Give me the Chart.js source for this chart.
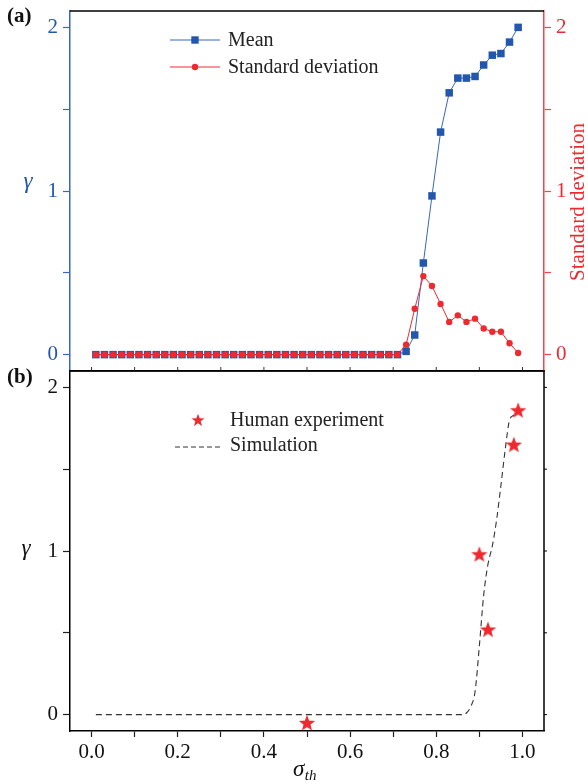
<!DOCTYPE html>
<html>
<head>
<meta charset="utf-8">
<script src="https://cdn.jsdelivr.net/npm/chart.js@4.4.0/dist/chart.umd.min.js"></script>
<style>
  html, body { margin: 0; padding: 0; background: #fff; }
  #wrap { position: relative; width: 588px; height: 784px; }
  #topChart { position: absolute; left: 0; top: 0; }
  #bottomChart { position: absolute; left: 0; top: 360px; }
</style>
</head>
<body>
<div id="wrap">
  <canvas id="topChart" width="588" height="380"></canvas>
  <canvas id="bottomChart" width="588" height="424"></canvas>
</div>
<script>
// panel (a): simulation sweep over sigma_th
const sigmaA = [0.01, 0.03, 0.05, 0.07, 0.09, 0.11, 0.13, 0.15, 0.17, 0.19,
                0.21, 0.23, 0.25, 0.27, 0.29, 0.31, 0.33, 0.35, 0.37, 0.39,
                0.41, 0.43, 0.45, 0.47, 0.49, 0.51, 0.53, 0.55, 0.57, 0.59,
                0.61, 0.63, 0.65, 0.67, 0.69, 0.71, 0.73, 0.75, 0.77, 0.79,
                0.81, 0.83, 0.85, 0.87, 0.89, 0.91, 0.93, 0.95, 0.97, 0.99];
const meanA = [0, 0, 0, 0, 0, 0, 0, 0, 0, 0,
               0, 0, 0, 0, 0, 0, 0, 0, 0, 0,
               0, 0, 0, 0, 0, 0, 0, 0, 0, 0,
               0, 0, 0, 0, 0, 0, 0.02, 0.12, 0.56, 0.97,
               1.36, 1.60, 1.69, 1.69, 1.70, 1.77, 1.83, 1.84, 1.91, 2.00];
const stdA = [0, 0, 0, 0, 0, 0, 0, 0, 0, 0,
              0, 0, 0, 0, 0, 0, 0, 0, 0, 0,
              0, 0, 0, 0, 0, 0, 0, 0, 0, 0,
              0, 0, 0, 0, 0, 0, 0.06, 0.28, 0.48, 0.42,
              0.31, 0.20, 0.24, 0.20, 0.22, 0.16, 0.14, 0.14, 0.07, 0.01];

// panel (b): human experiment vs simulation
const sigmaHuman = [0.50, 0.90, 0.92, 0.98, 0.99];
const gammaHuman = [-0.05, 0.98, 0.52, 1.65, 1.86];
const sigmaSim = [0.01, 0.86, 0.87, 0.88, 0.89, 0.90, 0.91, 0.92, 0.93, 0.94, 0.95, 0.96, 0.97, 0.98, 0.99];
const gammaSim = [0, 0, 0.01, 0.05, 0.14, 0.42, 0.73, 0.92, 1.03, 1.19, 1.40, 1.62, 1.80, 1.83, 1.86];

const xTicks = [0, 0.1, 0.2, 0.3, 0.4, 0.5, 0.6, 0.7, 0.8, 0.9, 1.0];
const xTickLabels = ['0.0', '', '0.2', '', '0.4', '', '0.6', '', '0.8', '', '1.0'];
const yTicks = [0, 0.5, 1, 1.5, 2];
const yTickLabels = ['0', '', '1', '', '2'];

const SERIF = "'Liberation Serif', 'Times New Roman', serif";
const BLUE = '#2356ad';
const BLUE_AXIS = '#3b66bd';
const RED = '#ee2a30';
const RED_AXIS = '#f2444a';

Chart.defaults.font.family = SERIF;
Chart.defaults.animation = false;

// filled five point star used as point style
function starPath(ctx, cx, cy, R, r) {
  ctx.beginPath();
  for (let i = 0; i < 10; i++) {
    const rad = i % 2 === 0 ? R : r;
    const a = -Math.PI / 2 + i * Math.PI / 5;
    const px = cx + rad * Math.cos(a), py = cy + rad * Math.sin(a);
    if (i === 0) ctx.moveTo(px, py); else ctx.lineTo(px, py);
  }
  ctx.closePath();
}
const starImg = document.createElement('canvas');
starImg.width = 18; starImg.height = 18;
(function () {
  const c = starImg.getContext('2d');
  starPath(c, 9, 9.6, 8.6, 3.6);
  c.fillStyle = RED;
  c.fill();
})();

function fixedTicks(vals) {
  return s => { s.ticks = vals.map(v => ({ value: v })); };
}
function fixWidth(w) {
  return s => { s.width = w; s.paddingTop = 0; s.paddingBottom = 0; };
}

// ---------- panel (a) ----------
const decoA = {
  id: 'decoA',
  afterDraw(chart) {
    const { ctx, chartArea: a, scales } = chart;
    const x = scales.x, y = scales.y;
    ctx.save();
    // top frame line
    ctx.strokeStyle = '#000';
    ctx.lineWidth = 1.5;
    ctx.beginPath();
    ctx.moveTo(a.left, a.top);
    ctx.lineTo(a.right, a.top);
    ctx.stroke();
    // inward ticks on the bottom edge
    ctx.lineWidth = 1;
    ctx.strokeStyle = '#333';
    xTicks.forEach(v => {
      const px = x.getPixelForValue(v);
      ctx.beginPath();
      ctx.moveTo(px, a.bottom);
      ctx.lineTo(px, a.bottom - 4);
      ctx.stroke();
    });
    // panel tag
    ctx.fillStyle = '#111';
    ctx.font = 'bold 21px ' + SERIF;
    ctx.textAlign = 'left';
    ctx.textBaseline = 'middle';
    ctx.fillText('(a)', 7, 17);
    // gamma label
    ctx.fillStyle = BLUE;
    ctx.font = 'italic 23px ' + SERIF;
    ctx.textAlign = 'center';
    ctx.textBaseline = 'alphabetic';
    ctx.fillText('\u03b3', 28, y.getPixelForValue(1) - 3);
    // right title, reading upward
    ctx.save();
    ctx.translate(578, 202);
    ctx.rotate(-Math.PI / 2);
    ctx.fillStyle = RED;
    ctx.font = '21px ' + SERIF;
    ctx.textBaseline = 'middle';
    ctx.fillText('Standard deviation', 0, 0);
    ctx.restore();
    // legend
    ctx.lineWidth = 1;
    ctx.strokeStyle = BLUE_AXIS;
    ctx.beginPath(); ctx.moveTo(170, 40); ctx.lineTo(220, 40); ctx.stroke();
    ctx.fillStyle = BLUE;
    ctx.fillRect(191.3, 36.3, 7.4, 7.4);
    ctx.strokeStyle = RED;
    ctx.beginPath(); ctx.moveTo(170, 67); ctx.lineTo(220, 67); ctx.stroke();
    ctx.fillStyle = RED;
    ctx.beginPath(); ctx.arc(195, 67, 3.2, 0, Math.PI * 2); ctx.fill();
    ctx.fillStyle = '#222';
    ctx.font = '20px ' + SERIF;
    ctx.textAlign = 'left';
    ctx.textBaseline = 'middle';
    ctx.fillText('Mean', 228, 41);
    ctx.fillText('Standard deviation', 228, 68);
    ctx.restore();
  }
};

new Chart(document.getElementById('topChart'), {
  type: 'line',
  data: {
    datasets: [
      {
        label: 'Standard deviation',
        data: sigmaA.map((v, i) => ({ x: v, y: stdA[i] })),
        yAxisID: 'yR',
        borderColor: RED,
        backgroundColor: RED,
        borderWidth: 1,
        pointStyle: 'circle',
        pointRadius: 3.2,
        pointBorderWidth: 0,
        order: 0
      },
      {
        label: 'Mean',
        data: sigmaA.map((v, i) => ({ x: v, y: meanA[i] })),
        yAxisID: 'y',
        borderColor: BLUE_AXIS,
        backgroundColor: BLUE,
        borderWidth: 1,
        pointStyle: 'rect',
        pointRadius: 5.3,
        pointBorderWidth: 0,
        order: 1
      }
    ]
  },
  options: {
    responsive: false,
    layout: { padding: { top: 11, left: 0, right: 0, bottom: 0 } },
    plugins: { legend: { display: false }, tooltip: { enabled: false } },
    scales: {
      x: {
        type: 'linear', min: -0.05, max: 1.05,
        ticks: { display: false },
        grid: { display: false },
        border: { display: true, color: '#000', width: 1.5 },
        afterFit: s => { s.height = 9; s.paddingLeft = 0; s.paddingRight = 0; }
      },
      y: {
        position: 'left', min: -0.1, max: 2.1,
        afterBuildTicks: fixedTicks(yTicks),
        ticks: { color: BLUE, font: { size: 21 }, padding: 5, autoSkip: false,
                 callback: (v, i) => yTickLabels[i] },
        grid: { drawOnChartArea: false, tickLength: 7, color: BLUE_AXIS, tickWidth: 1.2 },
        border: { color: BLUE_AXIS, width: 1.5 },
        afterFit: fixWidth(70)
      },
      yR: {
        position: 'right', min: -0.1, max: 2.1,
        afterBuildTicks: fixedTicks(yTicks),
        ticks: { color: RED, font: { size: 21 }, padding: 5, autoSkip: false,
                 callback: (v, i) => yTickLabels[i] },
        grid: { drawOnChartArea: false, tickLength: 7, color: RED_AXIS, tickWidth: 1.2 },
        border: { color: RED_AXIS, width: 1.5 },
        afterFit: fixWidth(44)
      }
    }
  },
  plugins: [decoA]
});

// ---------- panel (b) ----------
const decoB = {
  id: 'decoB',
  afterDraw(chart) {
    const { ctx, chartArea: a, scales } = chart;
    const y = scales.y;
    ctx.save();
    ctx.strokeStyle = '#000';
    ctx.lineWidth = 1.5;
    ctx.beginPath();
    ctx.moveTo(a.left, a.top);
    ctx.lineTo(a.right, a.top);
    ctx.lineTo(a.right, a.bottom);
    ctx.stroke();
    ctx.lineWidth = 1;
    yTicks.forEach(v => {
      const py = y.getPixelForValue(v);
      ctx.beginPath();
      ctx.moveTo(a.right, py);
      ctx.lineTo(a.right + 3, py);
      ctx.stroke();
    });
    // panel tag
    ctx.fillStyle = '#111';
    ctx.font = 'bold 21px ' + SERIF;
    ctx.textAlign = 'left';
    ctx.textBaseline = 'middle';
    ctx.fillText('(b)', 7, 18);
    // gamma label
    ctx.font = 'italic 23px ' + SERIF;
    ctx.textAlign = 'center';
    ctx.textBaseline = 'alphabetic';
    ctx.fillText('\u03b3', 26, y.getPixelForValue(1) + 4);
    // sigma_th
    ctx.textAlign = 'left';
    ctx.font = 'italic 23px ' + SERIF;
    const sw = ctx.measureText('\u03c3').width;
    ctx.fillText('\u03c3', 293, 416);
    ctx.font = 'italic 15px ' + SERIF;
    ctx.fillText('th', 293 + sw + 0.5, 420);
    // legend
    starPath(ctx, 198, 60.5, 6.8, 2.8);
    ctx.fillStyle = RED;
    ctx.fill();
    ctx.strokeStyle = '#333';
    ctx.lineWidth = 1;
    ctx.setLineDash([5, 3]);
    ctx.beginPath(); ctx.moveTo(175, 87); ctx.lineTo(222, 87); ctx.stroke();
    ctx.setLineDash([]);
    ctx.fillStyle = '#222';
    ctx.font = '20px ' + SERIF;
    ctx.textBaseline = 'middle';
    ctx.fillText('Human experiment', 230, 61);
    ctx.fillText('Simulation', 230, 86);
    ctx.restore();
  }
};

new Chart(document.getElementById('bottomChart'), {
  type: 'line',
  data: {
    datasets: [
      {
        label: 'Human experiment',
        data: sigmaHuman.map((v, i) => ({ x: v, y: gammaHuman[i] })),
        showLine: false,
        pointStyle: starImg,
        pointRadius: 8,
        order: 0
      },
      {
        label: 'Simulation',
        data: sigmaSim.map((v, i) => ({ x: v, y: gammaSim[i] })),
        borderColor: '#333',
        borderWidth: 1.1,
        borderDash: [6, 4],
        pointRadius: 0,
        cubicInterpolationMode: 'monotone',
        order: 1
      }
    ]
  },
  options: {
    responsive: false,
    layout: { padding: { top: 11, left: 0, right: 44, bottom: 0 } },
    plugins: { legend: { display: false }, tooltip: { enabled: false } },
    scales: {
      x: {
        type: 'linear', min: -0.05, max: 1.05,
        afterBuildTicks: fixedTicks(xTicks),
        ticks: { color: '#111', font: { size: 21 }, padding: 3, autoSkip: false, maxRotation: 0,
                 callback: (v, i) => xTickLabels[i] },
        grid: { drawOnChartArea: false, tickLength: 6, color: '#222', tickWidth: 1.2 },
        border: { color: '#000', width: 1.5 },
        afterFit: s => { s.height = 53; s.paddingLeft = 0; s.paddingRight = 0; }
      },
      y: {
        position: 'left', min: -0.1, max: 2.1,
        afterBuildTicks: fixedTicks(yTicks),
        ticks: { color: '#111', font: { size: 21 }, padding: 5, autoSkip: false,
                 callback: (v, i) => yTickLabels[i] },
        grid: { drawOnChartArea: false, tickLength: 7, color: '#222', tickWidth: 1.2 },
        border: { color: '#000', width: 1.5 },
        afterFit: fixWidth(70)
      }
    }
  },
  plugins: [decoB]
});
</script>
</body>
</html>
